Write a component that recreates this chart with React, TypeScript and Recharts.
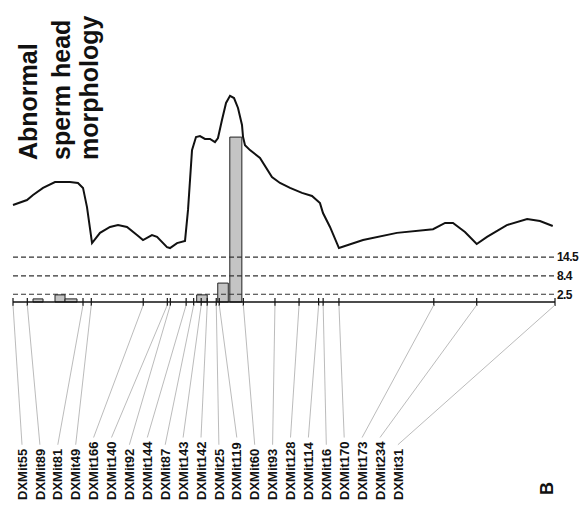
import {
  ComposedChart,
  Line,
  XAxis,
  YAxis,
  ReferenceLine,
  ReferenceArea,
} from "recharts";

const FONT = "'Liberation Sans', Arial, sans-serif";

// markers along the X chromosome (cM)
const markerNames = [
  "DXMit55", "DXMit89", "DXMit81", "DXMit49", "DXMit166", "DXMit140",
  "DXMit92", "DXMit144", "DXMit87", "DXMit143", "DXMit142", "DXMit25",
  "DXMit119", "DXMit60", "DXMit93", "DXMit128", "DXMit114", "DXMit16",
  "DXMit170", "DXMit173", "DXMit234", "DXMit31",
];
const markerCM = [
  0, 1.9, 9.3, 10.4, 17.3, 20.5, 20.9, 23.0, 24.0, 25.0, 25.8, 27.0,
  27.4, 30.6, 34.8, 38.0, 40.6, 41.2, 43.3, 55.9, 61.6, 72.0,
];

// LRS profile
const curveCM = [
  0, 1.86, 2.66, 3.99, 5.58, 7.57, 8.63, 9.3, 9.83, 10.5, 11.56, 12.89,
  13.95, 15.14, 16.47, 17.27, 18.46, 19.13, 20.46, 20.86, 21.79, 22.85,
  23.25, 23.78, 24.31, 24.84, 25.5, 26.17, 26.83, 27.23, 27.76, 28.3,
  28.83, 29.36, 29.89, 30.42, 30.56, 30.82, 31.48, 32.81, 34.4, 35.47,
  36.8, 38.39, 39.72, 40.78, 41.18, 42.11, 43.3, 46.5, 51.0, 55.8, 57.4,
  58.45, 60.04, 61.6, 62.97, 65.6, 68.3, 70.0, 71.7,
];
const curveLRS = [
  31.3, 32.9, 34.5, 36.8, 38.7, 38.7, 38.4, 36.8, 30.6, 19.0, 22.3, 24.2,
  24.8, 24.2, 21.6, 20.0, 21.6, 21.0, 17.7, 17.4, 19.0, 19.7,
  29.7, 49.0, 53.2, 53.5, 52.6, 52.6, 51.6, 52.9, 58.7, 64.2,
  66.5, 65.8, 62.6, 57.1, 53.2, 50.6, 49.0, 46.5, 40.3, 38.4,
  36.8, 35.2, 34.2, 31.9, 28.7, 24.2, 17.4, 20.0, 22.3, 23.5, 25.5,
  25.5, 22.6, 18.7, 21.0, 24.8, 26.8, 26.1, 24.5,
];

// bootstrap histogram, heights in plot units
const binStart = [2.66, 5.58, 6.91, 24.4, 27.2, 28.8];
const binEnd = [3.99, 6.91, 8.5, 25.8, 28.6, 30.4];
const binHeight = [1.0, 2.3, 1.0, 2.3, 6.1, 53.2];

// significance thresholds
const thresholds = [14.5, 8.4, 2.5];
const thresholdLabels = ["14.5", "8.4", "2.5"];

const curveData = curveCM.map((cM, i) => ({ cM, lrs: curveLRS[i] }));

const LABEL_X0 = 22;
const LABEL_STEP = 17.9;
const LABEL_BASE = 500;

function MarkerTick(props: any) {
  const { x, y, index } = props;
  const name = markerNames[index];
  if (!name) return null;
  const lx = LABEL_X0 + index * LABEL_STEP;
  const textW = 36.8 + 7.23 * (name.length - 5);
  return (
    <g>
      <line x1={x} y1={y - 4} x2={x} y2={y + 4} stroke="#111" strokeWidth={1.2} />
      <line
        x1={x}
        y1={y + 3}
        x2={lx}
        y2={LABEL_BASE - textW - 4}
        stroke="#aaa"
        strokeWidth={0.8}
      />
      <text
        transform={`translate(${lx + 4.6}, ${LABEL_BASE}) rotate(-90)`}
        fontSize={13}
        fontWeight="bold"
        fontFamily={FONT}
        fill="#111"
      >
        {name}
      </text>
    </g>
  );
}

export default function App() {
  return (
    <div
      style={{
        position: "absolute",
        left: 0,
        top: 0,
        width: 581,
        height: 505,
        background: "#fff",
      }}
    >
      <ComposedChart
        width={581}
        height={505}
        data={curveData}
        margin={{ top: 85, right: 26, bottom: 173, left: 13 }}
      >
        <XAxis
          dataKey="cM"
          type="number"
          domain={[0, 72]}
          ticks={markerCM}
          interval={0}
          tickSize={0}
          tickMargin={0}
          height={30}
          tickLine={false}
          axisLine={{ stroke: "#111", strokeWidth: 1.5 }}
          tick={(p: any) => <MarkerTick {...p} />}
        />
        <YAxis hide domain={[0, 70]} />

        {thresholds.map((t, i) => (
          <ReferenceLine
            key={t}
            y={t}
            stroke="#333"
            strokeWidth={1.2}
            strokeDasharray="5 3"
            label={{
              value: thresholdLabels[i],
              position: "right",
              offset: 2,
              fill: "#111",
              fontSize: 12,
              fontWeight: "bold",
              fontFamily: FONT,
              letterSpacing: -0.6,
            }}
          />
        ))}

        {binHeight.map((h, i) => (
          <ReferenceArea
            key={i}
            x1={binStart[i]}
            x2={binEnd[i]}
            y1={0}
            y2={h}
            ifOverflow="visible"
            fill="#c4c4c4"
            fillOpacity={1}
            stroke="#222"
            strokeWidth={1}
          />
        ))}

        <Line
          type="linear"
          dataKey="lrs"
          stroke="#111"
          strokeWidth={2}
          dot={false}
          isAnimationActive={false}
        />
      </ComposedChart>

      <svg
        width={581}
        height={505}
        style={{ position: "absolute", left: 0, top: 0, pointerEvents: "none" }}
      >
        <g fontFamily={FONT} fontWeight="bold" fontSize={25} fill="#111">
          <text transform="translate(37, 160) rotate(-90)">Abnormal</text>
          <text transform="translate(70, 160) rotate(-90)">sperm head</text>
          <text transform="translate(98, 160) rotate(-90)">morphology</text>
        </g>
        <text
          transform="translate(553, 495) rotate(-90)"
          fontFamily={FONT}
          fontWeight="bold"
          fontSize={18}
          fill="#111"
        >
          B
        </text>
      </svg>
    </div>
  );
}
